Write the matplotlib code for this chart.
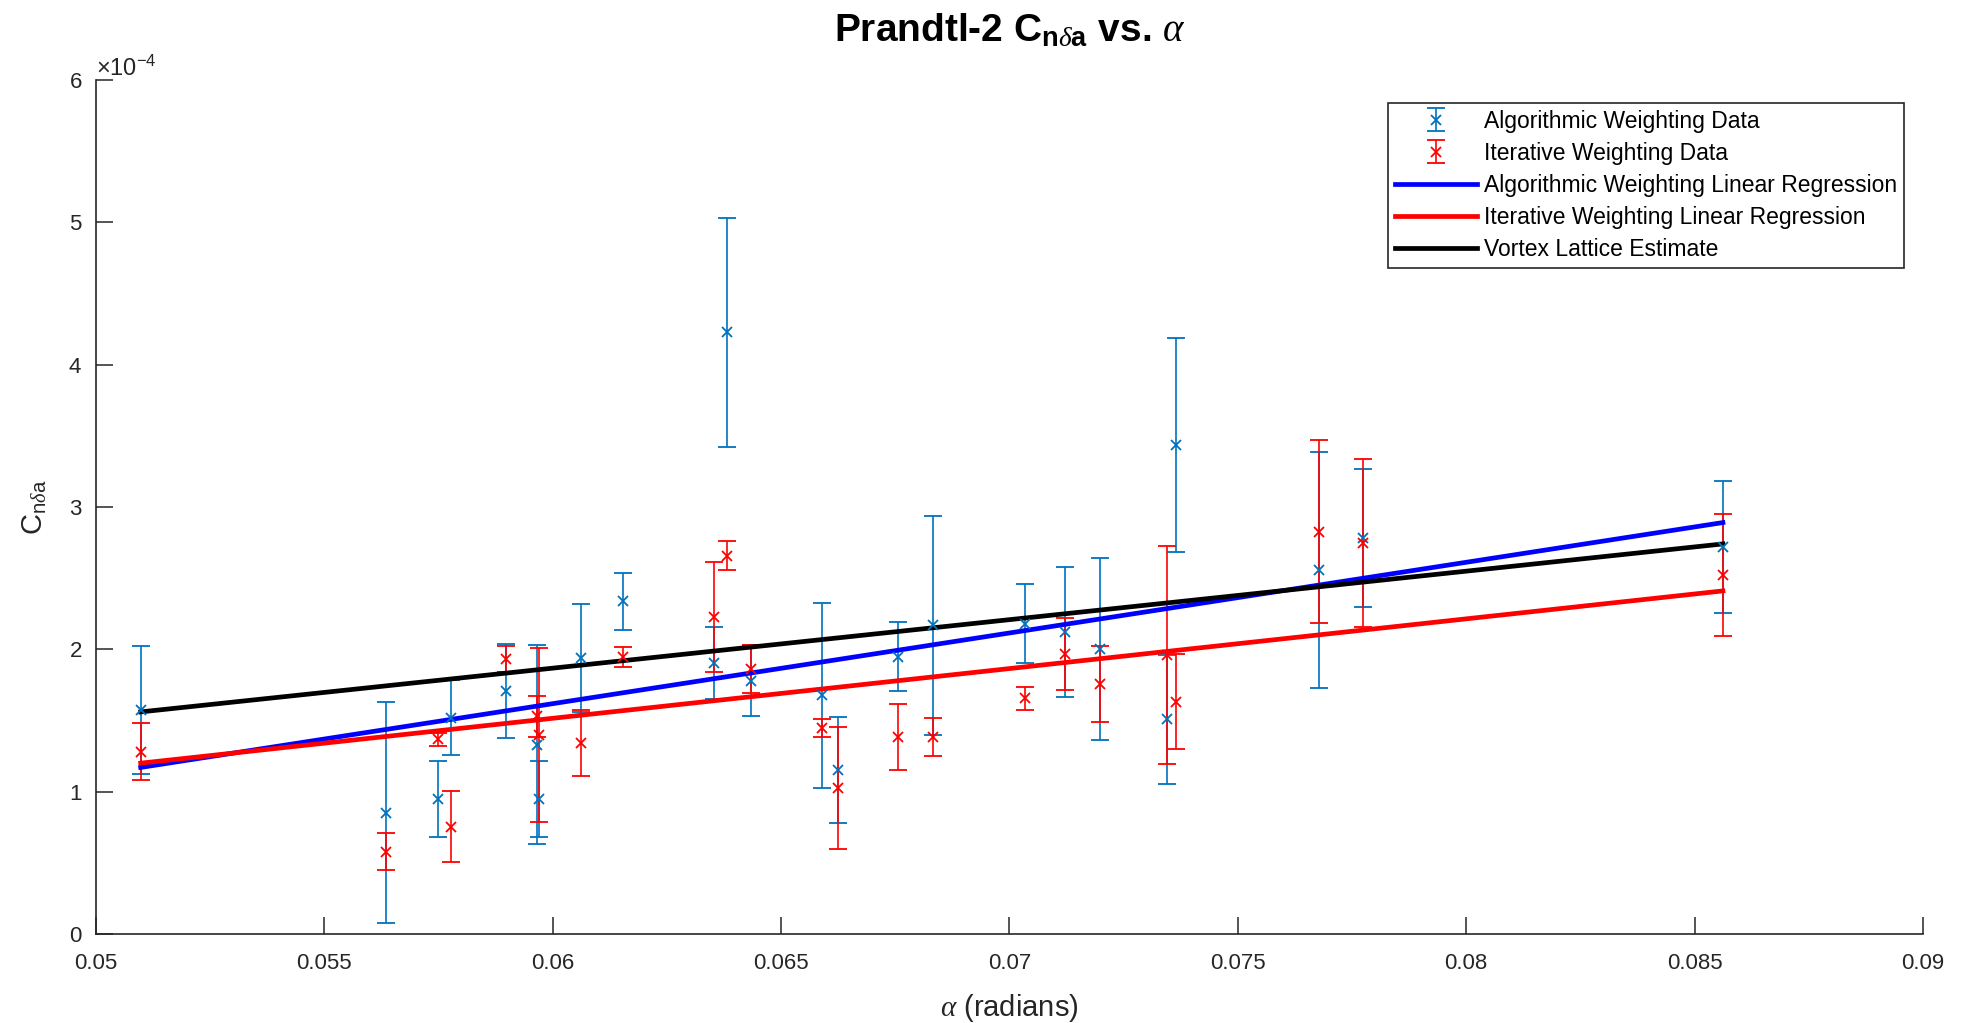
import numpy as np
import matplotlib
matplotlib.use("Agg")
import matplotlib.pyplot as plt
from matplotlib.ticker import ScalarFormatter

plt.rcParams['font.family'] = ['Liberation Sans', 'DejaVu Sans']
plt.rcParams['mathtext.fontset'] = 'custom'
plt.rcParams['mathtext.rm'] = 'Liberation Sans'
plt.rcParams['mathtext.it'] = 'Liberation Serif:italic'
plt.rcParams['mathtext.bf'] = 'Liberation Sans:bold'

# angle of attack (rad)
alpha = [0.05098, 0.05634, 0.05749, 0.05778, 0.05897, 0.05966, 0.05970, 0.06063,
         0.06154, 0.06353, 0.06382, 0.06434, 0.06589, 0.06624, 0.06756, 0.06832,
         0.07033, 0.07122, 0.07199, 0.07346, 0.07364, 0.07678, 0.07773, 0.08562]

# Cn_delta_a, in units of 1e-4
alg_cn = [1.573, 0.852, 0.946, 1.52, 1.71, 1.33, 0.946, 1.94, 2.337, 1.904, 4.225, 1.778,
          1.676, 1.152, 1.947, 2.168, 2.18, 2.123, 2.0, 1.508, 3.434, 2.556, 2.779, 2.72]
alg_err = [0.45, 0.778, 0.267, 0.262, 0.33, 0.70, 0.267, 0.38, 0.20, 0.255, 0.805, 0.25,
           0.65, 0.375, 0.243, 0.77, 0.275, 0.456, 0.64, 0.455, 0.754, 0.83, 0.485, 0.463]
itr_cn = [1.28, 0.578, 1.367, 0.754, 1.93, 1.53, 1.40, 1.34, 1.947, 2.227, 2.657, 1.86,
          1.447, 1.026, 1.383, 1.383, 1.655, 1.966, 1.753, 1.959, 1.632, 2.825, 2.748, 2.521]
itr_err = [0.20, 0.13, 0.047, 0.25, 0.09, 0.145, 0.61, 0.232, 0.07, 0.385, 0.10, 0.17,
           0.06, 0.43, 0.233, 0.136, 0.082, 0.253, 0.267, 0.765, 0.336, 0.643, 0.59, 0.43]

# regression / estimate lines at the ends of the alpha range (1e-4)
fit_alpha = [0.05098, 0.08562]
alg_fit = [1.17, 2.89]
itr_fit = [1.20, 2.41]
vlm_fit = [1.56, 2.74]

scale = 1e-4
a = np.array(alpha)
fa = np.array(fit_alpha)

fig = plt.figure(figsize=(19.62, 10.23), dpi=100)
ax = fig.add_axes([0.0489, 0.087, 0.9312, 0.835])

gray = '#262626'
ebkw = dict(fmt='x', markersize=6.5, capsize=6.2, elinewidth=1.2, capthick=1.2,
            markeredgewidth=1.3)
ax.errorbar(a, np.array(alg_cn) * scale, yerr=np.array(alg_err) * scale,
            color='#0072BD', label='Algorithmic Weighting Data', **ebkw)
ax.errorbar(a, np.array(itr_cn) * scale, yerr=np.array(itr_err) * scale,
            color='#FF0000', label='Iterative Weighting Data', **ebkw)
ax.plot(fa, np.array(alg_fit) * scale, color='#0000FF', lw=3.4,
        label='Algorithmic Weighting Linear Regression')
ax.plot(fa, np.array(itr_fit) * scale, color='#FF0000', lw=3.4,
        label='Iterative Weighting Linear Regression')
ax.plot(fa, np.array(vlm_fit) * scale, color='black', lw=3.4,
        label='Vortex Lattice Estimate')

ax.set_xlim(0.05, 0.09)
ax.set_ylim(0, 6e-4)
ax.set_xticks(np.arange(0.05, 0.0901, 0.005))
ax.set_xticklabels(['0.05', '0.055', '0.06', '0.065', '0.07', '0.075', '0.08', '0.085', '0.09'])
fmt = ScalarFormatter(useMathText=True)
fmt.set_powerlimits((-3, 3))
ax.yaxis.set_major_formatter(fmt)
ax.yaxis.get_offset_text().set_fontsize(17)
ax.yaxis.get_offset_text().set_color(gray)

for s in ['top', 'right']:
    ax.spines[s].set_visible(False)
for s in ['left', 'bottom']:
    ax.spines[s].set_color(gray)
    ax.spines[s].set_linewidth(1.2)
ax.tick_params(direction='in', length=12, width=1.1, colors=gray, labelsize=16)
ax.tick_params(axis='x', pad=14)
ax.tick_params(axis='y', pad=10)

ax.set_title(r'Prandtl-2 C$_{\mathbf{n}\delta\mathbf{a}}$ vs. $\alpha$', fontsize=28,
             fontweight='bold', pad=28)
ax.set_xlabel(r'$\alpha$ (radians)', fontsize=21, color=gray, labelpad=13)
ax.set_ylabel(r'C$_{\mathrm{n}\delta\mathrm{a}}$', fontsize=21, color=gray, labelpad=14)

h, l = ax.get_legend_handles_labels()
order = [3, 4, 0, 1, 2]
leg = ax.legend([h[i] for i in order], [l[i] for i in order], loc='upper right',
                bbox_to_anchor=(0.9896, 0.973), fontsize=16.5,
                frameon=True, fancybox=False, framealpha=1, edgecolor=gray,
                handlelength=3.6, borderpad=0.3, labelspacing=0.4, handletextpad=0.3,
                borderaxespad=0)
leg.get_frame().set_linewidth(1.2)

fig.savefig('out.png', dpi=100)
